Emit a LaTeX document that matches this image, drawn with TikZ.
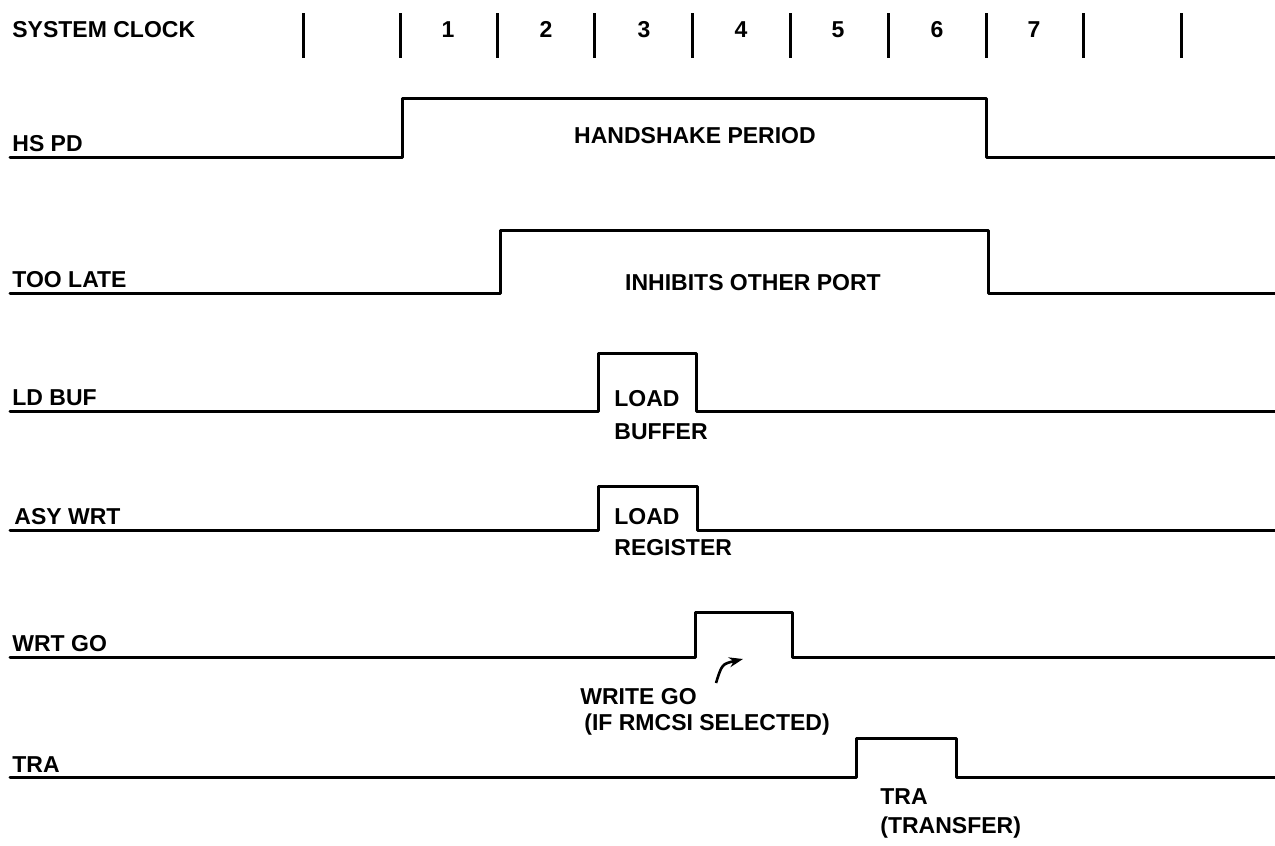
\documentclass[tikz,border=0pt]{standalone}
\usepackage{fontspec}
\setmainfont{Liberation Sans}
\usetikzlibrary{arrows.meta}
\begin{document}
\begin{tikzpicture}[x=0.5pt,y=-0.5pt,
  sig/.style={line width=1.5pt, line join=round, line cap=round},
  clk/.style={line width=1.5pt},
  lbl/.style={font=\fontsize{11.5}{13}\selectfont\bfseries, inner sep=0pt, anchor=base west},
  ctr/.style={font=\fontsize{11.5}{13}\selectfont\bfseries, inner sep=0pt, anchor=base},
  txt/.style={font=\fontsize{11.5}{13}\selectfont\bfseries, inner sep=0pt, anchor=base west}]
\useasboundingbox (0,0) rectangle (1275,846);
% system clock
\node[lbl] (sc) at (12,38) {SYSTEM CLOCK};
\foreach \x [count=\i] in {303,400,497,594,692,790,888,986,1083,1181}
  \draw[clk] (\x,13) coordinate (t\i) -- (\x,58) coordinate (b\i);
\foreach \x [count=\i] in {448,546,644,741,838,937,1034}
  \node[ctr] (n\i) at (\x,37) {\i};
% HS PD
\node[lbl] (l1) at (12,151) {HS PD};
\coordinate (a0) at (10,157); \coordinate (a1) at (402,157);
\coordinate (a2) at (402,98); \coordinate (a3) at (986,98);
\coordinate (a4) at (986,157); \coordinate (a5) at (1275,157);
\draw[sig] (a0) -- (a1) -- (a2) -- (a3) -- (a4) -- (a5);
\node[ctr] (h1) at (695,143) {HANDSHAKE PERIOD};
% TOO LATE
\node[lbl] (l2) at (12,287) {TOO LATE};
\coordinate (b0) at (10,293); \coordinate (b1) at (500,293);
\coordinate (b2) at (500,230); \coordinate (b3) at (988,230);
\coordinate (b4) at (988,293); \coordinate (b5) at (1275,293);
\draw[sig] (b0) -- (b1) -- (b2) -- (b3) -- (b4) -- (b5);
\node[ctr] (h2) at (753,290) {INHIBITS OTHER PORT};
% LD BUF
\node[lbl] (l3) at (12,405) {LD BUF};
\coordinate (c0) at (10,411); \coordinate (c1) at (598,411);
\coordinate (c2) at (598,353); \coordinate (c3) at (696,353);
\coordinate (c4) at (696,411); \coordinate (c5) at (1275,411);
\draw[sig] (c0) -- (c1) -- (c2) -- (c3) -- (c4) -- (c5);
\node[txt] (h3) at (614,406) {LOAD};
\node[txt] (h3b) at (614,439) {BUFFER};
% ASY WRT
\node[lbl] (l4) at (14,524) {ASY WRT};
\coordinate (d0) at (10,530); \coordinate (d1) at (598,530);
\coordinate (d2) at (598,486); \coordinate (d3) at (697,486);
\coordinate (d4) at (697,530); \coordinate (d5) at (1275,530);
\draw[sig] (d0) -- (d1) -- (d2) -- (d3) -- (d4) -- (d5);
\node[txt] (h4) at (614,524) {LOAD};
\node[txt] (h4b) at (614,555) {REGISTER};
% WRT GO
\node[lbl] (l5) at (12,651) {WRT GO};
\coordinate (e0) at (10,657); \coordinate (e1) at (695,657);
\coordinate (e2) at (695,612); \coordinate (e3) at (792,612);
\coordinate (e4) at (792,657); \coordinate (e5) at (1275,657);
\draw[sig] (e0) -- (e1) -- (e2) -- (e3) -- (e4) -- (e5);
\node[txt] (h5) at (580,704) {WRITE GO};
\node[txt] (h5b) at (584,730) {(IF RMCSI SELECTED)};
\coordinate (ar0) at (716,683); \coordinate (ar1) at (743,659);
\draw[line width=1.3pt, -{Stealth[length=7pt,width=5pt]}] (ar0) .. controls (722,664) .. (ar1);
% TRA
\node[lbl] (l6) at (12,772) {TRA};
\coordinate (f0) at (10,777); \coordinate (f1) at (856,777);
\coordinate (f2) at (856,738); \coordinate (f3) at (956,738);
\coordinate (f4) at (956,777); \coordinate (f5) at (1275,777);
\draw[sig] (f0) -- (f1) -- (f2) -- (f3) -- (f4) -- (f5);
\node[txt] (h6) at (880,804) {TRA};
\node[txt] (h6b) at (880,833) {(TRANSFER)};
\end{tikzpicture}
\end{document}
